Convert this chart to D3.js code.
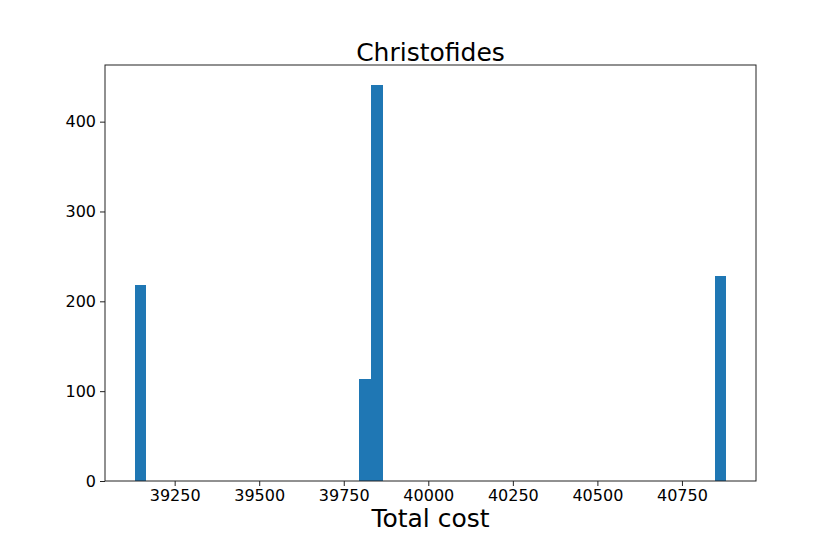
<!DOCTYPE html>
<html>
<head>
<meta charset="utf-8">
<script src="https://cdn.jsdelivr.net/npm/d3@7"></script>
<style>
  body { margin: 0; background: #fff; }
  svg { display: block; font-family: "DejaVu Sans", sans-serif; }
</style>
</head>
<body>
<svg id="chart" width="840" height="540"></svg>
<script>
// histogram of the tour costs, 50 equal bins between min and max cost
const minCost = 39131.5;
const maxCost = 40881.5;
const binCount = 50;
// only non-empty bins: index of bin -> count
const binIndex = [0, 19, 20, 49];
const binCounts = [218, 113, 441, 228];
const xTicks = [39250, 39500, 39750, 40000, 40250, 40500, 40750];
const yTicks = [0, 100, 200, 300, 400];

const svg = d3.select("#chart");
const margin = { left: 105, right: 84, top: 65, bottom: 59 };
const width = 840, height = 540;

const binWidth = (maxCost - minCost) / binCount;
const pad = (maxCost - minCost) * 0.05;

const x = d3.scaleLinear()
  .domain([minCost - pad, maxCost + pad])
  .range([margin.left, width - margin.right]);

const y = d3.scaleLinear()
  .domain([0, d3.max(binCounts) * 1.05])
  .range([height - margin.bottom, margin.top]);

const bins = binIndex.map((b, i) => ({
  x0: minCost + b * binWidth,
  x1: minCost + (b + 1) * binWidth,
  count: binCounts[i]
}));

svg.append("g")
  .selectAll("rect")
  .data(bins)
  .enter().append("rect")
  .attr("x", d => x(d.x0))
  .attr("width", d => x(d.x1) - x(d.x0))
  .attr("y", d => y(d.count))
  .attr("height", d => y(0) - y(d.count))
  .attr("shape-rendering", "crispEdges")
  .attr("fill", "#1f77b4");

const xAxis = svg.append("g")
  .attr("transform", `translate(0,${height - margin.bottom})`)
  .call(d3.axisBottom(x).tickValues(xTicks).tickFormat(d3.format("d")).tickSize(5).tickPadding(4));

const yAxis = svg.append("g")
  .attr("transform", `translate(${margin.left},0)`)
  .call(d3.axisLeft(y).tickValues(yTicks).tickFormat(d3.format("d")).tickSize(5).tickPadding(4));

[xAxis, yAxis].forEach(g => {
  g.select(".domain").remove();
  g.selectAll("text").attr("font-size", 16).attr("font-family", "DejaVu Sans").attr("fill", "#000");
  g.selectAll("line").attr("stroke", "#222").attr("stroke-width", 1);
});

// frame (all four spines)
svg.append("rect")
  .attr("x", margin.left)
  .attr("y", margin.top)
  .attr("width", width - margin.left - margin.right)
  .attr("height", height - margin.top - margin.bottom)
  .attr("fill", "none")
  .attr("stroke", "#222")
  .attr("stroke-width", 1);

svg.append("text")
  .attr("x", (margin.left + width - margin.right) / 2)
  .attr("y", 61)
  .attr("text-anchor", "middle")
  .attr("font-size", 25)
  .text("Christofides");

svg.append("text")
  .attr("x", (margin.left + width - margin.right) / 2)
  .attr("y", 527)
  .attr("text-anchor", "middle")
  .attr("font-size", 25)
  .text("Total cost");
</script>
</body>
</html>
